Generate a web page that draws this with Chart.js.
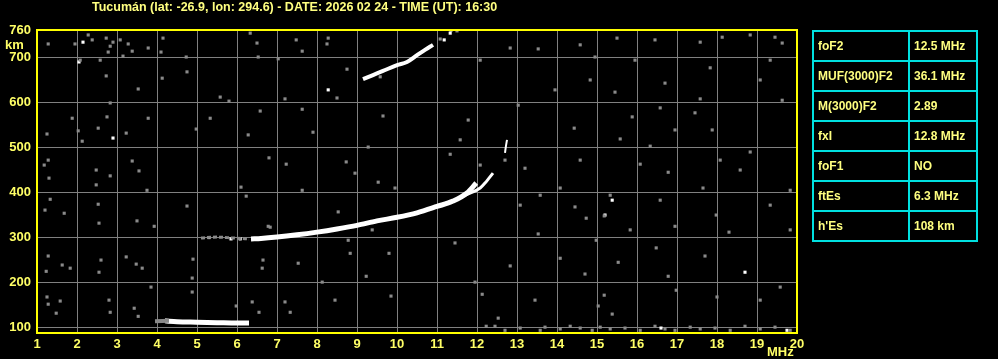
<!DOCTYPE html>
<html>
<head>
<meta charset="utf-8">
<script src="https://cdn.jsdelivr.net/npm/chart.js@4.4.1/dist/chart.umd.min.js"></script>
<style>
    html, body { margin: 0; padding: 0; background: #000; }
    #wrap { position: relative; width: 998px; height: 359px; overflow: hidden; }
    #params {
        position: absolute; left: 812px; top: 30px; width: 166px; height: 212px;
        border-collapse: collapse; font: bold 12px 'Liberation Sans', Arial, sans-serif; color: #ffff80;
    }
    #params td { border: 2px solid #00e0e0; padding: 0 0 0 4px; height: 28px; }
    #params td:first-child { width: 90px; }
</style>
</head>
<body>
<div id="wrap">
    <canvas id="iono" width="998" height="359"></canvas>
    <table id="params"></table>
</div>
<script>
// Axes
const freqTicks = [1, 2, 3, 4, 5, 6, 7, 8, 9, 10, 11, 12, 13, 14, 15, 16, 17, 18, 19, 20];
const heightTicks = [100, 200, 300, 400, 500, 600, 700, 760];

// Echo traces [MHz, km]
const esTrace = [[4.2, 114], [4.5, 112], [5.0, 111], [5.5, 110], [6.0, 109], [6.3, 109]];
const esFaint = [[3.95, 113], [4.3, 114]];
const f2Faint = [[5.1, 298], [5.5, 300], [5.9, 298], [6.3, 296]];
const f2Trace = [[6.35, 296], [6.6, 297], [7.0, 300], [7.5, 305], [8.0, 311], [8.5, 318], [9.0, 326],
    [9.5, 336], [10.0, 344], [10.5, 354], [11.0, 368], [11.4, 380], [11.75, 398], [11.98, 420]];
const f2Split = [[11.7, 393], [12.08, 409], [12.2, 420], [12.3, 431], [12.4, 442]];
const f2Top = [[12.7, 487], [12.72, 500], [12.75, 516]];
const secondHop = [[9.15, 651], [9.4, 660], [9.65, 669], [10.0, 682], [10.25, 689], [10.5, 704],
    [10.7, 716], [10.9, 727]];
const whiteDots = [[11.18, 738], [11.33, 753], [11.35, 760], [8.28, 627], [2.15, 733], [2.05, 689],
    [2.9, 520], [5.3, 299], [5.85, 296], [6.08, 296], [15.2, 349], [15.38, 382], [18.7, 222],
    [16.6, 98], [19.75, 93]];

// Background speckle [MHz, km]
const noise = [
    [1.28, 729], [1.25, 529], [1.28, 471], [1.18, 460], [1.3, 431], [1.33, 384], [1.2, 360], [1.28, 258],
    [1.23, 224], [1.25, 167], [1.28, 151],
    [1.95, 729], [2.08, 693], [1.88, 564], [2.03, 536], [2.13, 513], [1.68, 353], [1.83, 231], [1.63, 238],
    [1.58, 158], [1.48, 131],
    [2.28, 749], [2.38, 738], [2.73, 742], [2.83, 724], [2.9, 733], [2.78, 711], [2.58, 693], [2.73, 658],
    [2.83, 598], [2.75, 567], [2.53, 542], [2.48, 449], [2.83, 436], [2.48, 416], [2.53, 373], [2.55, 331],
    [2.6, 249], [2.55, 222], [2.8, 160], [2.83, 133],
    [3.08, 738], [3.28, 729], [3.38, 713], [3.15, 702], [3.78, 720], [4.1, 711], [4.15, 742], [4.13, 653],
    [3.53, 629], [3.78, 564], [3.23, 531], [3.38, 469], [3.55, 447], [3.75, 404], [3.5, 336], [3.93, 324],
    [3.23, 256], [3.48, 240], [3.63, 231], [3.85, 189], [3.43, 142], [3.53, 124],
    [4.73, 700], [4.75, 667], [5.58, 611], [5.33, 564], [4.98, 540], [4.75, 369], [4.9, 251], [4.88, 209],
    [4.88, 178],
    [6.33, 753], [6.5, 731], [6.53, 700], [5.8, 602], [6.58, 580], [6.28, 527], [6.8, 476], [6.1, 411],
    [6.23, 391], [6.78, 324], [6.65, 249], [6.63, 231], [6.38, 156], [5.98, 147], [6.55, 133],
    [7.48, 738], [7.63, 713], [7.03, 696], [7.2, 607], [7.63, 584], [7.23, 462], [7.63, 404], [6.83, 322],
    [7.53, 242], [7.2, 156], [7.33, 133],
    [8.28, 742], [8.25, 729], [8.75, 673], [8.5, 609], [7.9, 533], [8.73, 467], [8.95, 442], [8.53, 356],
    [8.78, 293], [8.83, 264], [8.13, 200], [8.45, 160],
    [9.58, 656], [9.65, 569], [9.28, 500], [9.53, 422], [9.95, 409], [9.38, 316], [9.8, 264], [9.23, 213],
    [9.85, 169],
    [11.08, 740], [11.5, 758], [12.08, 693], [11.78, 560], [11.58, 516], [11.33, 484], [12.08, 460],
    [11.45, 287], [11.95, 200], [12.13, 173], [12.53, 120],
    [12.83, 720], [13.53, 718], [13.03, 593], [12.7, 471], [13.2, 453], [13.58, 393], [13.08, 371],
    [13.53, 307], [12.83, 236], [13.45, 160],
    [14.58, 727], [14.95, 700], [14.83, 649], [13.95, 627], [14.43, 542], [14.58, 471], [14.08, 409],
    [14.45, 367], [14.73, 342], [14.98, 293], [14.08, 253], [14.7, 218], [15.03, 147],
    [15.5, 742], [15.95, 693], [15.45, 622], [15.88, 567], [15.58, 518], [16.08, 462], [15.33, 393],
    [15.18, 347], [15.83, 316], [15.53, 244], [15.18, 171], [15.38, 129],
    [16.45, 738], [16.7, 642], [16.58, 587], [16.95, 538], [16.33, 502], [16.78, 444], [16.58, 382],
    [16.95, 324], [16.48, 276], [16.78, 213], [16.98, 182],
    [17.58, 733], [18.13, 744], [17.83, 676], [17.58, 607], [17.45, 576], [17.88, 538], [18.08, 471],
    [17.65, 409], [17.98, 349], [18.3, 311], [17.7, 258], [18.0, 167],
    [18.83, 749], [19.45, 744], [19.63, 731], [19.33, 693], [19.08, 649], [19.63, 604], [18.83, 489],
    [18.58, 449], [19.83, 404], [19.33, 371], [19.83, 316], [19.58, 189], [19.08, 160],
    [12.23, 102], [12.45, 102], [12.7, 93], [13.08, 98], [13.58, 93], [13.7, 100], [14.08, 96], [14.33, 102],
    [14.58, 98], [14.88, 93], [15.08, 100], [15.33, 96], [15.7, 98], [16.08, 93], [16.45, 102], [16.7, 96],
    [16.95, 93], [17.33, 100], [17.58, 96], [17.95, 98], [18.33, 93], [18.7, 102], [19.08, 96], [19.45, 100],
    [19.83, 93]
];

// Scaled parameters
const paramNames = ['foF2', 'MUF(3000)F2', 'M(3000)F2', 'fxI', 'foF1', 'ftEs', "h'Es"];
const paramValues = ['12.5 MHz', '36.1 MHz', '2.89', '12.8 MHz', 'NO', '6.3 MHz', '108 km'];

const titleText = 'Tucumán (lat: -26.9, lon: 294.6) - DATE: 2026 02 24 - TIME (UT): 16:30';

const table = document.getElementById('params');
paramNames.forEach((name, i) => {
    const row = table.insertRow();
    row.insertCell().textContent = name;
    row.insertCell().textContent = paramValues[i];
});

const pts = arr => arr.map(p => ({ x: p[0], y: p[1] }));
const yellow = '#ffff66';
const tickFont = { family: "'Liberation Sans', Arial, sans-serif", size: 13, weight: 'bold' };

function trace(arr, width, color, dash) {
    return {
        data: pts(arr), showLine: true, borderColor: color, borderWidth: width,
        borderDash: dash || [], pointRadius: 0, tension: 0.3, cubicInterpolationMode: 'monotone'
    };
}

const frame = {
    id: 'frame',
    afterDatasetsDraw(chart) {
        const { ctx, chartArea: a } = chart;
        ctx.save();
        ctx.strokeStyle = '#ffff00';
        ctx.lineWidth = 2;
        ctx.strokeRect(a.left, a.top, a.right - a.left, a.bottom - a.top);
        ctx.fillStyle = '#ffff80';
        ctx.font = "bold 12.5px 'Liberation Sans', Arial, sans-serif";
        ctx.textBaseline = 'middle';
        ctx.fillText(titleText, 92, 8);
        ctx.fillStyle = yellow;
        ctx.font = "bold 13px 'Liberation Sans', Arial, sans-serif";
        ctx.fillText('km', 5, 45);
        ctx.fillText('MHz', 767, 352);
        ctx.restore();
    }
};

new Chart(document.getElementById('iono'), {
    type: 'scatter',
    data: {
        datasets: [
            { data: pts(noise), backgroundColor: '#8a8a8a', pointStyle: 'rect', pointRadius: 2.2, borderWidth: 0 },
            trace(esFaint, 4, '#8a8a8a'),
            trace(f2Faint, 3, '#8a8a8a', [4, 2]),
            trace(esTrace, 5, '#ffffff'),
            trace(f2Trace, 5, '#ffffff'),
            trace(f2Split, 3, '#ffffff'),
            trace(f2Top, 2, '#ffffff'),
            trace(secondHop, 4, '#ffffff'),
            { data: pts(whiteDots), backgroundColor: '#ffffff', pointStyle: 'rect', pointRadius: 2.2, borderWidth: 0 }
        ]
    },
    options: {
        responsive: false,
        animation: false,
        layout: { padding: { top: 30, right: 201, left: 0, bottom: 0 } },
        plugins: { legend: { display: false }, tooltip: { enabled: false } },
        scales: {
            x: {
                type: 'linear', min: 1, max: 20,
                afterBuildTicks: s => { s.ticks = freqTicks.map(v => ({ value: v })); },
                afterFit: s => { s.height = 26; },
                grid: { color: '#808080', lineWidth: 1, drawTicks: false },
                border: { display: false },
                ticks: { color: yellow, font: tickFont, padding: 4, maxRotation: 0 }
            },
            y: {
                type: 'linear', min: 87, max: 760,
                afterBuildTicks: s => { s.ticks = heightTicks.map(v => ({ value: v })); },
                afterFit: s => { s.width = 37; },
                grid: { color: '#808080', lineWidth: 1, drawTicks: false },
                border: { display: false },
                ticks: { color: yellow, font: tickFont, padding: 6 }
            }
        }
    },
    plugins: [frame]
});
</script>
</body>
</html>
